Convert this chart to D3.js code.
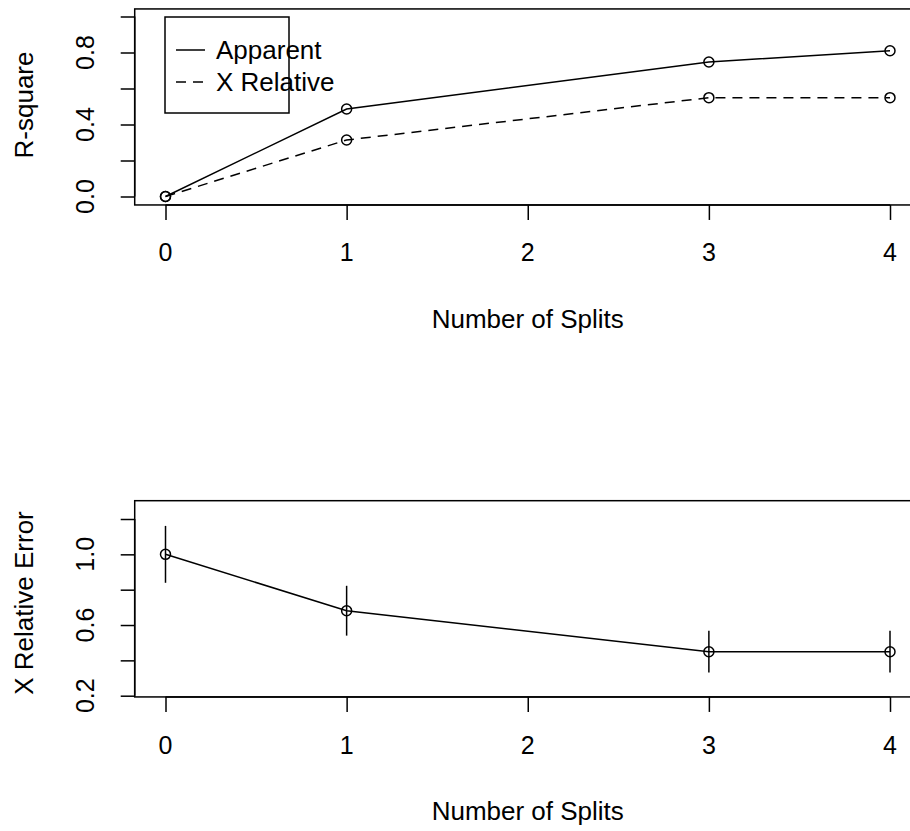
<!DOCTYPE html>
<html>
<head>
<meta charset="utf-8">
<script src="https://cdn.jsdelivr.net/npm/d3@7"></script>
<style>
  html, body { margin: 0; padding: 0; background: #fff; }
  svg { display: block; }
  text { font-family: "Liberation Sans", Arial, sans-serif; fill: #000; }
</style>
</head>
<body>
<svg id="chart" width="910" height="831"></svg>
<script>
// ---- data ----
const splits = [0, 1, 3, 4];
const apparent = [0, 0.486, 0.747, 0.81];
const xRelative = [0, 0.314, 0.549, 0.549];
const xError = [1.0, 0.681, 0.449, 0.449];
const xErrorSD = [0.161, 0.141, 0.118, 0.118];
const xTicks = [0, 1, 2, 3, 4];
const topYTicks = [0, 0.2, 0.4, 0.6, 0.8, 1.0];
const topYLabels = [0, 0.4, 0.8];
const botYTicks = [0.2, 0.4, 0.6, 0.8, 1.0, 1.2];
const botYLabels = [0.2, 0.6, 1.0];
const legendLabels = ["Apparent", "X Relative"];
const xTitle = "Number of Splits";
const topYTitle = "R-square";
const botYTitle = "X Relative Error";

// ---- layout ----
const svg = d3.select("#chart");
const x = d3.scaleLinear().domain([0, 4]).range([165.5, 890]);
const xPad = [-0.17, 4.17];
const yTop = d3.scaleLinear().domain([0, 1]).range([196.5, 16.5]);
const yTopPad = [-0.047, 1.042];
const yBot = d3.scaleLinear().domain([0.2, 1.2]).range([695.7, 519]);
const yBotPad = [0.193, 1.3036];

const stroke = "#000";
const lw = 1.5;
const dash = "10,7";
const tickFont = 25;
const titleFont = 26;

function panel(y, yPad, yTicks, yLabels, yTitle, titleY, xLabelY, xTitleY) {
  const g = svg.append("g");
  const x0 = x(xPad[0]), x1 = x(xPad[1]);
  const y0 = y(yPad[0]), y1 = y(yPad[1]);
  // box
  g.append("rect").attr("x", x0).attr("y", y1).attr("width", x1 - x0).attr("height", y0 - y1)
    .attr("fill", "none").attr("stroke", stroke).attr("stroke-width", lw);
  // y axis
  const ya = g.append("g").attr("transform", `translate(${x0},0)`)
    .call(d3.axisLeft(y).tickValues(yTicks).tickSize(14).tickSizeOuter(0).tickFormat(""));
  ya.selectAll("path,line").attr("stroke", stroke).attr("stroke-width", lw);
  ya.select(".domain").attr("d", `M0,${y(yTicks[0])}V${y(yTicks[yTicks.length - 1])}`);
  yLabels.forEach(v => {
    g.append("text").attr("transform", `translate(85,${y(v)}) rotate(-90)`)
      .attr("text-anchor", "middle").attr("dominant-baseline", "central")
      .attr("font-size", tickFont).text(d3.format(".1f")(v));
  });
  // x axis
  const xa = g.append("g").attr("transform", `translate(0,${y0})`)
    .call(d3.axisBottom(x).tickValues(xTicks).tickSize(15).tickSizeOuter(0).tickFormat(""));
  xa.selectAll("path,line").attr("stroke", stroke).attr("stroke-width", lw);
  xa.select(".domain").attr("d", `M${x(xTicks[0])},0H${x(xTicks[xTicks.length - 1])}`);
  xTicks.forEach(v => {
    g.append("text").attr("x", x(v)).attr("y", xLabelY)
      .attr("text-anchor", "middle").attr("dominant-baseline", "central")
      .attr("font-size", tickFont).text(v);
  });
  // titles
  g.append("text").attr("x", x(2)).attr("y", xTitleY)
    .attr("text-anchor", "middle").attr("dominant-baseline", "central")
    .attr("font-size", titleFont).text(xTitle);
  g.append("text").attr("transform", `translate(24,${titleY}) rotate(-90)`)
    .attr("text-anchor", "middle").attr("dominant-baseline", "central")
    .attr("font-size", titleFont).text(yTitle);
  return g;
}

// ---- top panel ----
const gTop = panel(yTop, yTopPad, topYTicks, topYLabels, topYTitle, 105, 252, 319);
const lineTop = d3.line().x((d, i) => x(splits[i])).y(d => yTop(d));
gTop.append("path").datum(apparent).attr("d", lineTop)
  .attr("fill", "none").attr("stroke", stroke).attr("stroke-width", lw);
gTop.append("path").datum(xRelative).attr("d", lineTop)
  .attr("fill", "none").attr("stroke", stroke).attr("stroke-width", lw).attr("stroke-dasharray", dash);
[apparent, xRelative].forEach(series => {
  gTop.selectAll(null).data(series).enter().append("circle")
    .attr("cx", (d, i) => x(splits[i])).attr("cy", d => yTop(d)).attr("r", 5)
    .attr("fill", "none").attr("stroke", stroke).attr("stroke-width", lw);
});
// legend
const lg = gTop.append("g");
lg.append("rect").attr("x", 165).attr("y", 17).attr("width", 124).attr("height", 96)
  .attr("fill", "none").attr("stroke", stroke).attr("stroke-width", lw);
legendLabels.forEach((lab, i) => {
  const ly = 50 + i * 32;
  lg.append("line").attr("x1", 176).attr("x2", 205).attr("y1", ly).attr("y2", ly)
    .attr("stroke", stroke).attr("stroke-width", lw)
    .attr("stroke-dasharray", i === 1 ? dash : null);
  lg.append("text").attr("x", 216).attr("y", ly).attr("dominant-baseline", "central")
    .attr("font-size", titleFont).text(lab);
});

// ---- bottom panel ----
const gBot = panel(yBot, yBotPad, botYTicks, botYLabels, botYTitle, 603, 745, 811);
const lineBot = d3.line().x((d, i) => x(splits[i])).y(d => yBot(d));
gBot.append("path").datum(xError).attr("d", lineBot)
  .attr("fill", "none").attr("stroke", stroke).attr("stroke-width", lw);
gBot.selectAll(null).data(xError).enter().append("line")
  .attr("x1", (d, i) => x(splits[i])).attr("x2", (d, i) => x(splits[i]))
  .attr("y1", (d, i) => yBot(d - xErrorSD[i])).attr("y2", (d, i) => yBot(d + xErrorSD[i]))
  .attr("stroke", stroke).attr("stroke-width", lw);
gBot.selectAll(null).data(xError).enter().append("circle")
  .attr("cx", (d, i) => x(splits[i])).attr("cy", d => yBot(d)).attr("r", 5)
  .attr("fill", "none").attr("stroke", stroke).attr("stroke-width", lw);
</script>
</body>
</html>
